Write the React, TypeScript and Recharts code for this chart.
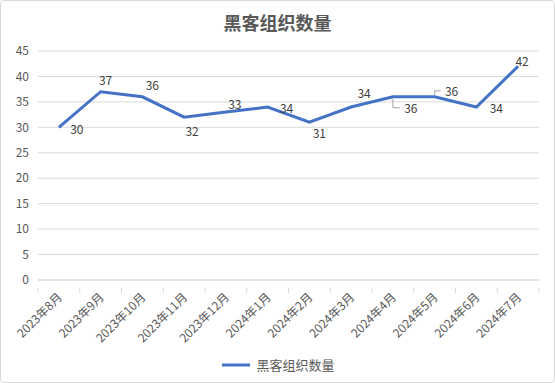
import React from "react";
import { LineChart, Line, XAxis, YAxis, CartesianGrid } from "recharts";

const categories = [
  "2023年8月", "2023年9月", "2023年10月", "2023年11月", "2023年12月", "2024年1月",
  "2024年2月", "2024年3月", "2024年4月", "2024年5月", "2024年6月", "2024年7月",
];
const hackerGroups = [30, 37, 36, 32, 33, 34, 31, 34, 36, 36, 34, 42];
const yTicks = [0, 5, 10, 15, 20, 25, 30, 35, 40, 45];
const seriesName = "黑客组织数量";
const chartTitle = "黑客组织数量";

const data = categories.map((c, i) => ({ month: c, value: hackerGroups[i] }));

// label placement offsets (dx, dy) relative to each point, plus leader-line flag
const labelOffsets: [number, number, number][] = [
  [18, 1, 0], [5, -12, 0], [10, -12, 0], [8, 13, 0], [9, -9, 0], [19, 1, 0],
  [10, 10, 0], [13, -14, 0], [18, 11, 1], [17, -6, 2], [20, 1, 0], [4, -6, 0],
];

const W = 555;
const H = 383;
const X_H = 103;
const M = { top: 51, right: 16, bottom: 0, left: 0 };
const Y_W = 38;
const BAND = (W - M.right - M.left - Y_W) / categories.length;
const FONT = "'Noto Sans CJK SC', 'Noto Sans', sans-serif";
const TXT = "#595959";

const XTick = (props: any) => {
  const { x, y, payload, index } = props;
  const last = index === categories.length - 1;
  return (
    <g>
      <line x1={x - BAND / 2} x2={x - BAND / 2} y1={y} y2={y + 5} stroke="#D9D9D9" />
      {last && <line x1={x + BAND / 2} x2={x + BAND / 2} y1={y} y2={y + 5} stroke="#D9D9D9" />}
      <text
        x={x + 4}
        y={y + 10}
        textAnchor="end"
        fontSize={12}
        fill={TXT}
        fontFamily={FONT}
        transform={`rotate(-45 ${x + 4} ${y + 10})`}
      >
        {payload.value}
      </text>
    </g>
  );
};

const PointLabel = (props: any) => {
  const { x, y, value, index } = props;
  const [dx, dy, leader] = labelOffsets[index] || [0, -10, 0];
  const lx = x + dx;
  const ly = y + dy;
  return (
    <g>
      {leader === 1 && (
        <polyline points={`${x},${y + 2} ${x},${ly} ${lx - 11},${ly}`} fill="none" stroke="#A6A6A6" strokeWidth={1} />
      )}
      {leader === 2 && (
        <polyline points={`${x},${y - 2} ${x},${ly} ${lx - 11},${ly}`} fill="none" stroke="#A6A6A6" strokeWidth={1} />
      )}
      <text x={lx} y={ly} textAnchor="middle" dominantBaseline="central" fontSize={12} fill="#404040" fontFamily={FONT}>
        {value}
      </text>
    </g>
  );
};

export default function App() {
  return (
    <div
      style={{
        position: "fixed",
        left: 0,
        top: 0,
        width: W,
        height: H,
        boxSizing: "border-box",
        border: "1px solid #D9D9D9",
        borderRadius: 4,
        background: "#fff",
        fontFamily: FONT,
      }}
    >
      <div
        style={{
          position: "absolute",
          left: 0,
          top: 8,
          width: W - 2,
          textAlign: "center",
          fontSize: 18,
          fontWeight: "bold",
          color: TXT,
          fontFamily: FONT,
        }}
      >
        {chartTitle}
      </div>
      <div style={{ position: "absolute", left: -1, top: -1 }}>
        <LineChart width={W} height={H} data={data} margin={M}>
          <CartesianGrid vertical={false} stroke="#D9D9D9" />
          <XAxis
            dataKey="month"
            padding={{ left: BAND / 2, right: BAND / 2 }}
            axisLine={{ stroke: "#D9D9D9" }}
            tickLine={false}
            tick={<XTick />}
            interval={0}
            height={X_H}
          />
          <YAxis
            width={Y_W}
            domain={[0, 45]}
            ticks={yTicks}
            axisLine={false}
            tickLine={false}
            tickSize={0}
            tickMargin={9}
            interval={0}
            tick={{ fontSize: 12, fill: TXT, fontFamily: FONT }}
          />
          <Line
            type="linear"
            dataKey="value"
            name={seriesName}
            stroke="#4472C4"
            strokeWidth={3}
            dot={false}
            activeDot={false}
            isAnimationActive={false}
            label={<PointLabel />}
          />
        </LineChart>
      </div>
      <div
        style={{
          position: "absolute",
          left: 0,
          top: 354,
          width: W - 2,
          display: "flex",
          justifyContent: "center",
          alignItems: "center",
          fontSize: 13,
          color: TXT,
        }}
      >
        <svg width={32} height={10} style={{ marginRight: 4 }}>
          <line x1={2} x2={30} y1={5} y2={5} stroke="#4472C4" strokeWidth={3} />
        </svg>
        <span>{seriesName}</span>
      </div>
    </div>
  );
}
